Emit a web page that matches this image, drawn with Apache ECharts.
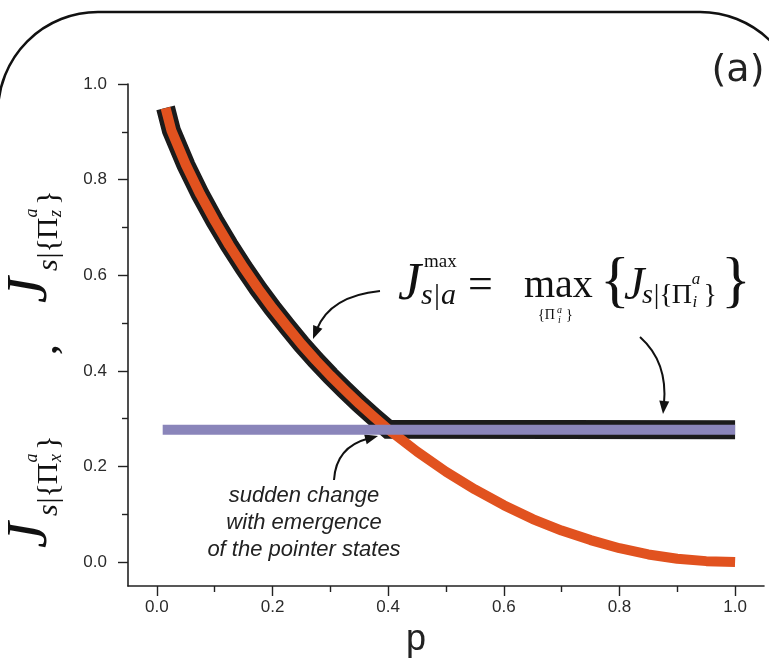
<!DOCTYPE html>
<html>
<head>
<meta charset="utf-8">
<script src="https://cdn.jsdelivr.net/npm/echarts@6/dist/echarts.min.js"></script>
<style>
  html, body { margin: 0; padding: 0; background: #fff; }
  #chart { width: 769px; height: 663px; }
</style>
</head>
<body>
<div id="chart"></div>
<script>
// Mixing parameter p at which the z-basis correlation is sampled
const pValues = [0.015, 0.025, 0.05, 0.075, 0.1, 0.125, 0.15, 0.175, 0.2, 0.225, 0.25,
  0.275, 0.3, 0.325, 0.35, 0.375, 0.4, 0.45, 0.5, 0.55, 0.6, 0.65, 0.7, 0.75, 0.8,
  0.85, 0.9, 0.95, 1.0];
// J_{s|{Π_z^a}} (orange curve)
const jzValues = [0.95, 0.903, 0.831, 0.769, 0.714, 0.663, 0.616, 0.572, 0.531, 0.493, 0.456,
  0.422, 0.390, 0.360, 0.331, 0.304, 0.278, 0.231, 0.189, 0.152, 0.119, 0.090, 0.066, 0.046, 0.029,
  0.016, 0.007, 0.002, 0.0];
// J_{s|{Π_x^a}} (flat lavender line): start and end of p, constant value
const jxRange = [0.01, 1.0];
const jxValue = 0.277;

// Tick positions
const xMajorTicks = [0, 0.2, 0.4, 0.6, 0.8, 1.0];
const xMinorTicks = [0.1, 0.3, 0.5, 0.7, 0.9];
const yMajorTicks = [0, 0.2, 0.4, 0.6, 0.8, 1.0];
const yMinorTicks = [0.1, 0.3, 0.5, 0.7, 0.9];

// Series point lists
const jzData = pValues.map((p, i) => [p, jzValues[i]]);
const jxData = jxRange.map(p => [p, jxValue]);

// Envelope J^max = max of the two correlations
const envelope = [];
for (let i = 0; i < pValues.length; i++) {
  if (jzValues[i] >= jxValue) {
    envelope.push([pValues[i], jzValues[i]]);
  } else {
    const p0 = pValues[i - 1], v0 = jzValues[i - 1];
    const p1 = pValues[i], v1 = jzValues[i];
    const pc = p0 + (v0 - jxValue) / (v0 - v1) * (p1 - p0);
    envelope.push([pc, jxValue]);
    envelope.push([jxRange[1], jxValue]);
    break;
  }
}

const SERIF = '"Liberation Serif", "DejaVu Serif", serif';
const SANS = '"Liberation Sans", Arial, sans-serif';
const AXIS_COLOR = '#222';

// One run of formula text, placed by its baseline
function run(x, baseline, str, size, italic, weight) {
  return {
    type: 'text',
    x: x,
    y: baseline - 0.3 * size,
    silent: true,
    style: {
      text: str,
      font: (italic ? 'italic ' : '') + (weight ? weight + ' ' : '') + size + 'px ' + SERIF,
      fill: '#111',
      align: 'left',
      verticalAlign: 'middle'
    }
  };
}

// Curved annotation arrow (quadratic curve with filled head)
function arrow(x1, y1, cx, cy, x2, y2) {
  const dx = x2 - cx, dy = y2 - cy;
  const len = Math.sqrt(dx * dx + dy * dy);
  const ux = dx / len, uy = dy / len;
  const L = 13, W = 5;
  const bx = x2 - ux * L, by = y2 - uy * L;
  return [
    {
      type: 'bezierCurve', silent: true,
      shape: { x1: x1, y1: y1, cpx1: cx, cpy1: cy, x2: bx + ux * 3, y2: by + uy * 3 },
      style: { stroke: '#111', lineWidth: 2, fill: null }
    },
    {
      type: 'polygon', silent: true,
      shape: { points: [[x2, y2], [bx - uy * W, by + ux * W], [bx + uy * W, by - ux * W]] },
      style: { fill: '#111' }
    }
  ];
}

// Subscript block "s|{Π^a_k}" laid out left to right from x
function subBlock(x, baseline, idx, size) {
  const s = size, small = Math.round(size * 0.6);
  return [
    run(x, baseline, 's', s, true),
    run(x + 0.42 * s, baseline, '|', s, false),
    run(x + 0.62 * s, baseline, '{', s, false),
    run(x + 1.06 * s, baseline, 'Π', s, false),
    run(x + 1.78 * s, baseline - 0.68 * s, 'a', small, true),
    run(x + 1.80 * s, baseline + 0.12 * s, idx, small, true),
    run(x + 2.20 * s, baseline, '}', s, false)
  ];
}

const chart = echarts.init(document.getElementById('chart'), null, { renderer: 'canvas' });

// Formula J^max_{s|a} = max_{Π_i^a} { J_{s|{Π_i^a}} }
const formula = [
  run(398, 301, 'J', 52, true),
  run(424, 268, 'max', 19, false),
  run(421, 305, 's', 30, true),
  run(434, 305, '|', 30, false),
  run(441, 305, 'a', 30, true),
  run(468, 300, '=', 44, false),
  run(524, 298, 'max', 40, false),
  run(538, 320, '{Π', 14, false),
  run(557, 313, 'a', 10, true),
  run(558, 323, 'i', 10, true),
  run(566, 320, '}', 14, false),
  run(600, 302, '{', 62, false),
  run(624, 301, 'J', 46, true)
].concat(subBlock(642, 304, 'i', 28), [
  run(721, 302, '}', 62, false)
]);

// Rotated y-axis title: J_{s|{Π_x^a}} , J_{s|{Π_z^a}}
// (local x runs upward on screen, local y runs rightward)
const yTitleChildren = [
  run(12, 48, 'J', 58, true),
  ...subBlock(44, 58, 'x', 30),
  run(206, 58, ',', 34, false, 'bold'),
  run(257, 48, 'J', 58, true),
  ...subBlock(289, 58, 'z', 30)
];

const option = {
  animation: false,
  backgroundColor: '#fff',
  grid: { left: 128, right: 5, top: 84, bottom: 77, containLabel: false },
  xAxis: [
    {
      type: 'value', min: -0.05, max: 1.05, position: 'bottom',
      axisLine: { show: true, onZero: false, lineStyle: { color: AXIS_COLOR, width: 1.6 } },
      axisTick: { show: true, length: 10, customValues: xMajorTicks, lineStyle: { color: AXIS_COLOR, width: 1.4 } },
      axisLabel: {
        customValues: xMajorTicks, formatter: v => v.toFixed(1), margin: 13,
        fontSize: 17, fontFamily: SANS, color: '#2a2a2a'
      },
      splitLine: { show: false }
    },
    {
      type: 'value', min: -0.05, max: 1.05, position: 'bottom',
      axisLine: { show: false, onZero: false },
      axisTick: { show: true, length: 6, customValues: xMinorTicks, lineStyle: { color: AXIS_COLOR, width: 1.4 } },
      axisLabel: { show: false },
      splitLine: { show: false }
    }
  ],
  yAxis: [
    {
      type: 'value', min: -0.05, max: 1.0, position: 'left',
      axisLine: { show: true, onZero: false, lineStyle: { color: AXIS_COLOR, width: 1.6 } },
      axisTick: { show: true, length: 10, customValues: yMajorTicks, lineStyle: { color: AXIS_COLOR, width: 1.4 } },
      axisLabel: {
        customValues: yMajorTicks, formatter: v => v.toFixed(1), margin: 21,
        fontSize: 17, fontFamily: SANS, color: '#2a2a2a'
      },
      splitLine: { show: false }
    },
    {
      type: 'value', min: -0.05, max: 1.0, position: 'left',
      axisLine: { show: false, onZero: false },
      axisTick: { show: true, length: 6, customValues: yMinorTicks, lineStyle: { color: AXIS_COLOR, width: 1.4 } },
      axisLabel: { show: false },
      splitLine: { show: false }
    }
  ],
  series: [
    {
      name: 'J max envelope', type: 'line', data: envelope,
      xAxisIndex: 0, yAxisIndex: 0, symbol: 'none', silent: true, z: 2,
      lineStyle: { color: '#1b1b1b', width: 19, join: 'miter', cap: 'butt' }
    },
    {
      name: 'J z', type: 'line', data: jzData,
      xAxisIndex: 0, yAxisIndex: 0, symbol: 'none', silent: true, z: 3,
      lineStyle: { color: '#E1521F', width: 10, join: 'round', cap: 'butt' }
    },
    {
      name: 'J x', type: 'line', data: jxData,
      xAxisIndex: 0, yAxisIndex: 0, symbol: 'none', silent: true, z: 4,
      lineStyle: { color: '#8A85BA', width: 10, cap: 'butt' }
    }
  ],
  graphic: [
    {
      type: 'rect', silent: true, z: 0,
      shape: { x: -2, y: 12, width: 802, height: 800, r: 100 },
      style: { fill: null, stroke: '#111', lineWidth: 2.5 }
    },
    {
      type: 'text', silent: true, x: 738, y: 71,
      style: { text: '(a)', font: '38px "DejaVu Sans", sans-serif', fill: '#222', align: 'center', verticalAlign: 'middle' }
    },
    {
      type: 'text', silent: true, x: 416, y: 640,
      style: { text: 'p', font: '36px ' + SANS, fill: '#222', align: 'center', verticalAlign: 'middle' }
    },
    {
      type: 'text', silent: true, x: 304, y: 523,
      style: {
        text: 'sudden change\nwith emergence\nof the pointer states',
        font: 'italic 22px ' + SANS, lineHeight: 27, fill: '#222',
        align: 'center', verticalAlign: 'middle'
      }
    },
    { type: 'group', silent: true, children: formula },
    { type: 'group', silent: true, x: 0, y: 560, rotation: Math.PI / 2, children: yTitleChildren },
    ...arrow(380, 291, 330, 296, 313, 339),
    ...arrow(640, 337, 668, 362, 663, 414),
    ...arrow(334, 480, 336, 447, 378, 436)
  ]
};

chart.setOption(option);
</script>
</body>
</html>
